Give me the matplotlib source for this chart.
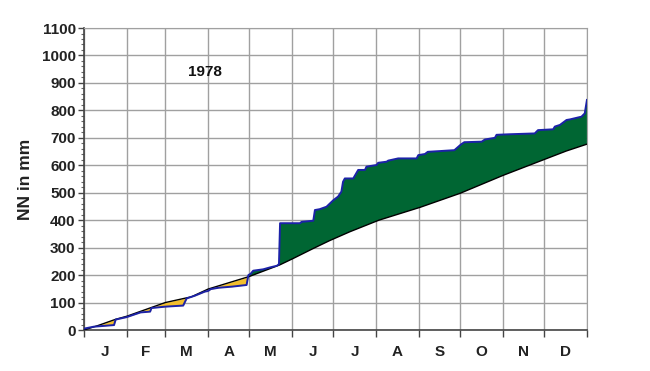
import numpy as np
from matplotlib import pyplot as plt

# cumulative precipitation, day of year -> mm
mean_days = [0, 10, 23, 31, 45, 59, 78, 90, 105, 120, 142, 152, 166, 178, 193,
             214, 244, 273, 304, 336, 350, 365]
mean_mm = [0, 16, 39, 50, 75, 100, 121, 149, 172, 195, 237, 261, 296, 325, 358,
           400, 447, 498, 563, 625, 652, 677]

year_days = [0, 7, 21.8, 23, 31, 41, 48, 49, 58.8, 72, 74.5, 80.5, 87.8, 90, 92,
             97.8, 107.5, 118, 119.3, 121, 122.8, 130, 135, 140, 141.5, 142.3,
             156.7, 158, 166.4, 167.6, 171, 176, 181, 184.4, 186.8, 188, 189.3,
             195.4, 199, 203.9, 205, 212.3, 213.5, 219.6, 220.8, 228, 241.4,
             242.6, 247.4, 249.5, 268.8, 273.6, 276, 288.6, 291, 298.2, 299.4,
             309, 327.1, 329.5, 340.5, 341.7, 345.4, 350.2, 352.6, 361, 363.4, 365]
year_mm = [5, 12, 18, 38, 47, 64, 67, 80, 85, 89, 115, 125, 140, 142, 149,
           154, 158, 164, 200, 205, 216, 221, 228, 234, 240, 389,
           389, 394, 398, 437, 440, 449, 473, 486, 504, 540, 552,
           552, 583, 583, 595, 601, 609, 613, 617, 625, 625,
           637, 641, 649, 655, 676, 684, 686, 694, 700, 711,
           713, 716, 728, 731, 741, 747, 765, 767, 777, 789, 838]

month_edges = [0, 31, 59, 90, 120, 151, 181, 212, 243, 273, 304, 334, 365]
month_labels = ["J", "F", "M", "A", "M", "J", "J", "A", "S", "O", "N", "D"]

plt.rcParams["font.family"] = ["Liberation Sans", "DejaVu Sans"]
plt.rcParams["font.weight"] = "bold"

fig = plt.figure(figsize=(6.5, 3.71), dpi=100)
ax = fig.add_axes([0.1292, 0.1105, 0.7738, 0.814])

# fill between the two curves
grid = np.linspace(0, 365, 3000)
y_year = np.interp(grid, year_days, year_mm)
y_mean = np.interp(grid, mean_days, mean_mm)
ax.fill_between(grid, y_mean, y_year, where=y_year >= y_mean, interpolate=True,
                color="#006633", linewidth=0, zorder=2)
ax.fill_between(grid, y_mean, y_year, where=y_year < y_mean, interpolate=True,
                color="#F2BE2C", linewidth=0, zorder=2)

ax.plot(mean_days, mean_mm, color="black", linewidth=1.0, zorder=3)
ax.plot(year_days, year_mm, color="#1c22a8", linewidth=1.4, zorder=4)

ax.set_xlim(0, 365)
ax.set_ylim(0, 1100)

ax.set_yticks(np.arange(0, 1101, 100))
ax.set_yticks(np.arange(0, 1101, 20), minor=True)
ax.set_xticks(month_edges)
ax.set_xticklabels([])
mids = [(a + b) / 2 for a, b in zip(month_edges[:-1], month_edges[1:])]
ax.set_xticks(mids, minor=True)
ax.set_xticklabels(month_labels, minor=True, fontsize=11, fontweight="bold",
                   color="#222222")
ax.tick_params(axis="x", which="minor", length=0, pad=11)
ax.tick_params(axis="x", which="major", length=5, width=1, color="#444444")
ax.tick_params(axis="y", which="major", length=4, width=1, color="#444444",
               labelsize=11, labelcolor="#222222", pad=2)
ax.tick_params(axis="y", which="minor", length=2, width=0.8, color="#666666")

ax.grid(True, which="major", color="#a0a0a0", linewidth=1.0, zorder=0)
ax.set_axisbelow(True)

for side in ("top", "right"):
    ax.spines[side].set_color("#a0a0a0")
for side in ("left", "bottom"):
    ax.spines[side].set_color("#444444")
    ax.spines[side].set_linewidth(1.2)

ax.set_ylabel("NN in mm", fontsize=12.5, fontweight="bold", color="#222222",
              labelpad=6)
ax.text(88, 940, "1978", fontsize=11, fontweight="bold", ha="center",
        va="center", color="#111111")

fig.savefig("out.png", dpi=100)
